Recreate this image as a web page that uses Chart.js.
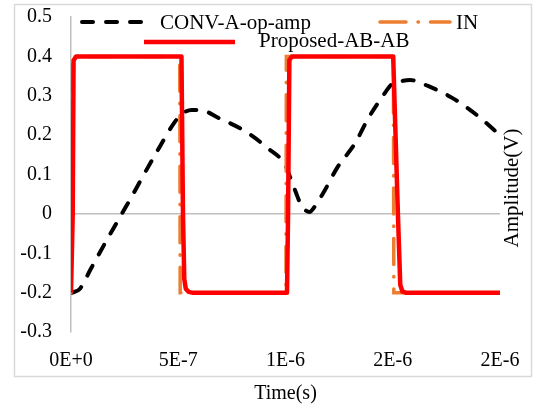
<!DOCTYPE html>
<html>
<head>
<meta charset="utf-8">
<script src="https://cdn.jsdelivr.net/npm/chart.js@4"></script>
<style>
  html, body { margin: 0; padding: 0; background: #fff; }
  #wrap { width: 539px; height: 409px; }
</style>
</head>
<body>
<div id="wrap"><canvas id="myChart" width="539" height="409"></canvas></div>
<script>
// time in microseconds, amplitude in volts
const seriesNames = ['CONV-A-op-amp', 'IN', 'Proposed-AB-AB'];

const convTime = [0.005, 0.042, 0.092, 0.159, 0.239, 0.279, 0.345, 0.407, 0.477, 0.517, 0.564, 0.601,
  0.69, 0.811, 0.912, 1.001, 1.021, 1.046, 1.068, 1.096, 1.114, 1.13, 1.176, 1.242, 1.324, 1.382,
  1.452, 1.497, 1.548, 1.58, 1.664, 1.779, 1.887, 2.0];
const convAmp = [-0.2, -0.19, -0.14, -0.074, 0.002, 0.04, 0.105, 0.164, 0.228, 0.254, 0.264, 0.264,
  0.243, 0.21, 0.169, 0.122, 0.094, 0.058, 0.028, 0.008, 0.005, 0.014, 0.053, 0.118, 0.179, 0.239,
  0.298, 0.33, 0.338, 0.34, 0.325, 0.294, 0.253, 0.2];

const inTime = [0, 0.002, 0.507, 0.509, 1.002, 1.004, 1.503, 1.505, 2.0];
const inAmp = [-0.2, 0.4, 0.4, -0.2, -0.2, 0.4, 0.4, -0.2, -0.2];

const propTime = [0, 0.008, 0.012, 0.025, 0.515, 0.522, 0.528, 0.535, 0.548, 0.565,
  1.007, 1.012, 1.018, 1.03, 1.502, 1.524, 1.535, 1.545, 1.56, 2.0];
const propAmp = [-0.2, 0.0, 0.39, 0.4, 0.4, 0.0, -0.165, -0.19, -0.198, -0.2,
  -0.2, 0.0, 0.39, 0.4, 0.4, 0.0, -0.18, -0.197, -0.2, -0.2];

const xTickLabels = ['0E+0', '5E-7', '1E-6', '2E-6', '2E-6'];
const yTickLabels = ['-0.3', '-0.2', '-0.1', '0', '0.1', '0.2', '0.3', '0.4', '0.5'];

const pts = (ts, vs) => ts.map((t, i) => ({ x: t, y: vs[i] }));

const serif = "'Liberation Serif', 'Times New Roman', serif";
Chart.defaults.font.family = serif;
Chart.defaults.font.size = 20;
Chart.defaults.color = '#000';

// hand placed legend rows and the y title on the right
const legendSpots = [
  { ds: 0, x1: 82, x2: 152, y: 22, tx: 160, ty: 29 },
  { ds: 1, x1: 380, x2: 450, y: 22, tx: 456, ty: 29 },
  { ds: 2, x1: 144, x2: 235, y: 42, tx: 259, ty: 47 }
];

const decor = {
  id: 'decor',
  beforeDraw(chart) {
    const c = chart.ctx;
    c.save();
    c.fillStyle = '#fff';
    c.fillRect(0, 0, chart.width, chart.height);
    c.strokeStyle = '#D9D9D9';
    c.lineWidth = 1.5;
    c.strokeRect(14.5, 4.5, 517, 372);
    c.restore();
  },
  afterDraw(chart) {
    const c = chart.ctx;
    const sets = chart.data.datasets;
    c.save();
    legendSpots.forEach(s => {
      const d = sets[s.ds];
      c.strokeStyle = d.borderColor;
      c.lineWidth = d.borderWidth;
      c.lineCap = d.borderCapStyle || 'butt';
      c.setLineDash(d.borderDash || []);
      c.beginPath();
      c.moveTo(s.x1, s.y);
      c.lineTo(s.x2, s.y);
      c.stroke();
      c.setLineDash([]);
      c.font = '21px ' + serif;
      c.fillStyle = '#000';
      c.textBaseline = 'alphabetic';
      c.fillText(d.label, s.tx, s.ty);
    });
    c.translate(512, 188);
    c.rotate(-Math.PI / 2);
    c.textAlign = 'center';
    c.textBaseline = 'middle';
    c.fillText('Amplitude(V)', 0, 0);
    c.restore();
  }
};

const ctx = document.getElementById('myChart').getContext('2d');
new Chart(ctx, {
  type: 'line',
  data: {
    datasets: [{
      label: seriesNames[0],
      data: pts(convTime, convAmp),
      borderColor: '#000000',
      borderWidth: 4,
      borderDash: [11, 13],
      borderCapStyle: 'round',
      cubicInterpolationMode: 'monotone',
      order: 3
    }, {
      label: seriesNames[1],
      data: pts(inTime, inAmp),
      borderColor: '#ED7D31',
      borderWidth: 3.5,
      borderDash: [26, 12, 0.5, 12],
      borderCapStyle: 'round',
      order: 2
    }, {
      label: seriesNames[2],
      data: pts(propTime, propAmp),
      borderColor: '#FF0000',
      borderWidth: 4.5,
      borderJoinStyle: 'round',
      order: 1
    }]
  },
  options: {
    responsive: false,
    animation: false,
    elements: { point: { radius: 0 }, line: { tension: 0 } },
    layout: { padding: { left: 0, right: 39, top: 17, bottom: 0 } },
    plugins: { legend: { display: false }, tooltip: { enabled: false } },
    scales: {
      x: {
        type: 'linear',
        min: 0,
        max: 2,
        grid: { display: false },
        border: { display: false },
        ticks: {
          stepSize: 0.5,
          padding: 9,
          maxRotation: 0,
          autoSkip: false,
          callback: (v, i) => xTickLabels[i]
        },
        title: { display: true, text: 'Time(s)', font: { size: 20 }, padding: { top: 0, bottom: 3 } },
        afterFit: s => { s.height = 77; }
      },
      y: {
        min: -0.3,
        max: 0.5,
        grid: {
          drawTicks: true,
          tickLength: 14,
          tickColor: 'rgba(0,0,0,0)',
          lineWidth: 1.5,
          color: c => (Math.abs(c.tick.value) < 1e-9 ? '#BFBFBF' : 'rgba(0,0,0,0)')
        },
        border: { display: true, color: '#BFBFBF', width: 1.5 },
        ticks: {
          stepSize: 0.1,
          padding: 5,
          callback: (v, i) => yTickLabels[i]
        },
        afterFit: s => { s.width = 71; }
      }
    }
  },
  plugins: [decor]
});
</script>
</body>
</html>
